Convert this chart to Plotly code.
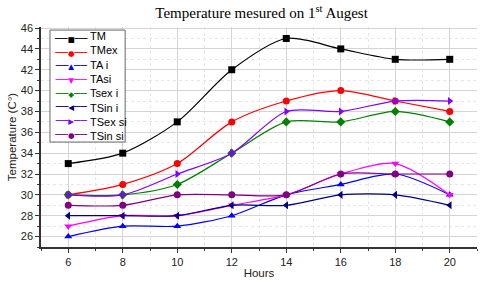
import plotly.graph_objects as go

hours = [6, 8, 10, 12, 14, 16, 18, 20]
names = ["TM", "TMex", "TA i", "TAsi", "Tsex i", "TSin i", "TSex si", "TSin si"]
TM = [33, 34, 37, 42, 45, 44, 43, 43]
TMex = [30, 31, 33, 37, 39, 40, 39, 38]
TA_i = [26, 27, 27, 28, 30, 31, 32, 30]
TAsi = [27, 28, 28, 29, 30, 32, 33, 30]
Tsex_i = [30, 30, 31, 34, 37, 37, 38, 37]
TSin_i = [28, 28, 28, 29, 29, 30, 30, 29]
TSex_si = [30, 30, 32, 34, 38, 38, 39, 39]
TSin_si = [29, 29, 30, 30, 30, 32, 32, 32]
series = [TM, TMex, TA_i, TAsi, Tsex_i, TSin_i, TSex_si, TSin_si]

colors = ["#000000", "#FF0000", "#0000FF", "#FF00FF", "#008000", "#000080", "#8000FF", "#800080"]
symbols = ["square", "circle", "triangle-up", "triangle-down", "diamond", "triangle-left", "triangle-right", "circle"]
glyphs = ["■", "●", "▲", "▼", "◆", "◀", "▶", "●"]

X_RANGE = [5, 21]
Y_RANGE = [25, 46.1]

fig = go.Figure()
for name, ys, c, s in zip(names, series, colors, symbols):
    fig.add_trace(go.Scatter(
        x=hours, y=ys, name=name, mode="lines+markers",
        line=dict(color=c, width=1.2, shape="spline", smoothing=0.8),
        marker=dict(symbol=s, size=7, color=c),
        showlegend=False,
    ))

# legend box (drawn as shape + annotations)
box_x0, box_x1, box_y0, box_y1 = 0.0206, 0.193, 0.477, 0.986
fig.add_shape(type="rect", xref="paper", yref="paper",
              x0=box_x0, x1=box_x1, y0=box_y0, y1=box_y1,
              line=dict(color="#666", width=1), fillcolor="white", layer="above")
sym_lines = [f'<span style="color:{c}">──<span style="font-size:7.5px">{g}</span>──</span>'
             for c, g in zip(colors, glyphs)]
fig.add_annotation(
    xref="paper", yref="paper", x=0.0688, y=(box_y0 + box_y1) / 2,
    xanchor="center", yanchor="middle",
    text="<br>".join(sym_lines), align="center", showarrow=False,
    font=dict(family="DejaVu Sans, sans-serif", size=10.5, color="#000"),
)
fig.add_annotation(
    xref="paper", yref="paper", x=0.108, y=(box_y0 + box_y1) / 2,
    xanchor="left", yanchor="middle",
    text="<br>".join(names), align="left", showarrow=False,
    font=dict(family="Liberation Sans, Arial, sans-serif", size=11, color="#000"),
)

tickfont = dict(family="Liberation Sans, Arial, sans-serif", size=11, color="#222")
titlefont = dict(family="Liberation Sans, Arial, sans-serif", size=11.5, color="#222")
axis_common = dict(
    showline=True, linecolor="#333", linewidth=1.5,
    ticks="outside", ticklen=4, tickcolor="#333",
    showgrid=True, gridcolor="#d4d4d4", gridwidth=1,
    zeroline=False, automargin=False,
    tickfont=tickfont,
    minor=dict(showgrid=True, gridcolor="#e6e6e6", griddash="dot",
               ticks="outside", ticklen=2, tickcolor="#333", dtick=1),
)
mirror_common = dict(
    showline=True, linecolor="#333", linewidth=1.2,
    ticks="inside", ticklen=3, tickcolor="#333",
    showgrid=False, zeroline=False, showticklabels=False, automargin=False,
    minor=dict(ticks="inside", ticklen=2, tickcolor="#333", dtick=1, showgrid=False),
)

fig.update_layout(
    width=480, height=284,
    margin=dict(l=41, r=3, t=27, b=37),
    paper_bgcolor="white", plot_bgcolor="white",
    title=dict(
        text="Temperature mesured on 1<sup>st</sup> Augest",
        x=0.545, xanchor="center", y=0.955, yanchor="middle",
        font=dict(family="Liberation Serif, Times New Roman, serif", size=15, color="#000"),
    ),
    xaxis=dict(range=X_RANGE, dtick=2, tick0=6,
               title=dict(text="Hours", standoff=2, font=titlefont),
               **axis_common),
    yaxis=dict(range=Y_RANGE, dtick=2, tick0=26,
               title=dict(text="Temperature (C°)", standoff=2, font=titlefont),
               **axis_common),
    xaxis2=dict(range=X_RANGE, dtick=2, tick0=6, overlaying="x", side="top",
                anchor="y", **mirror_common),
    yaxis2=dict(range=Y_RANGE, dtick=2, tick0=26, overlaying="y", side="right",
                anchor="x", **mirror_common),
)

fig.write_html("out.html", config={"displayModeBar": False},
               post_script="document.body.style.margin='0';")
